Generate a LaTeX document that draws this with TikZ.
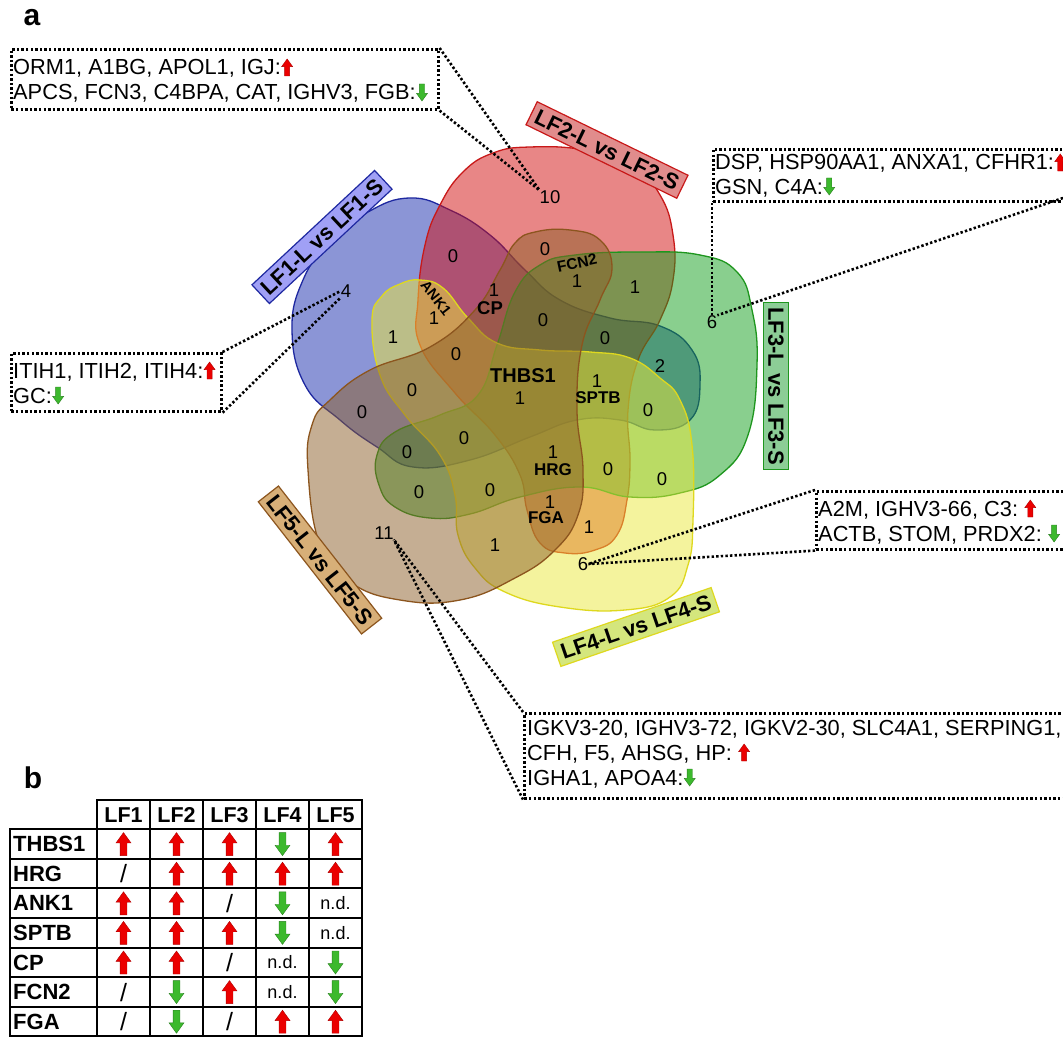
\documentclass[tikz,border=0pt]{standalone}
\usepackage{fontspec}
\setmainfont{Liberation Sans}
\usetikzlibrary{calc}
\definecolor{blueF}{RGB}{25,45,175}
\definecolor{blueD}{RGB}{30,40,160}
\definecolor{redF}{RGB}{210,15,15}
\definecolor{redD}{RGB}{200,25,25}
\definecolor{greenF}{RGB}{20,160,30}
\definecolor{greenD}{RGB}{30,150,30}
\definecolor{yelF}{RGB}{235,232,60}
\definecolor{yelD}{RGB}{222,216,30}
\definecolor{brnF}{RGB}{140,95,40}
\definecolor{brnD}{RGB}{140,85,30}
\definecolor{arrRed}{RGB}{235,0,0}
\definecolor{arrGreen}{RGB}{60,185,45}
\definecolor{labA}{RGB}{160,160,245}
\definecolor{labB}{RGB}{225,140,140}
\definecolor{labC}{RGB}{140,205,150}
\definecolor{labD}{RGB}{212,230,125}
\definecolor{labE}{RGB}{215,175,120}
\tikzset{
  upA/.pic={\fill[arrRed,draw=arrRed!75!black,line width=0.4pt] (0,-10)--(6.5,-1)--(3,-1)--(3,10)--(-3,10)--(-3,-1)--(-6.5,-1)--cycle;},
  dnA/.pic={\fill[arrGreen,draw=arrGreen!70!black,line width=0.4pt] (0,10)--(6.5,1)--(3,1)--(3,-10)--(-3,-10)--(-3,1)--(-6.5,1)--cycle;},
  num/.style={font=\fontsize{18.5}{18.5}\selectfont, inner sep=0pt},
  gene/.style={font=\bfseries\fontsize{17}{17}\selectfont, inner sep=0pt},
  lab/.style={font=\bfseries\fontsize{22}{22}\selectfont, inner sep=5pt, line width=1.2pt},
  callout/.style={draw, line width=2.6pt, dash pattern=on 2.4pt off 2.2pt, inner sep=0pt, anchor=north west},
  leader/.style={line width=2.6pt, dash pattern=on 2.4pt off 2.2pt},
  ctext/.style={font=\fontsize{21.8}{21.8}\selectfont, inner sep=0pt, anchor=base west},
  tname/.style={font=\bfseries\fontsize{22}{22}\selectfont, inner sep=0pt, anchor=west},
  thead/.style={font=\bfseries\fontsize{21.5}{21.5}\selectfont, inner sep=0pt},
  tslash/.style={font=\fontsize{25}{25}\selectfont, inner sep=0pt},
  tnd/.style={font=\fontsize{18}{18}\selectfont, inner sep=0pt},
  tbl/.style={line width=2pt},
  panel/.style={font=\bfseries\fontsize{30}{30}\selectfont, inner sep=0pt}
}
\newcommand\tcU[3]{\pic[scale=1.15] at (#1,#2) {upA};}
\newcommand\tcD[3]{\pic[scale=1.15] at (#1,#2) {dnA};}
\newcommand\tcS[3]{\node[tslash] (#3) at (#1,#2) {/};}
\newcommand\tcN[3]{\node[tnd] (#3) at (#1,#2) {n.d.};}
\begin{document}
\begin{tikzpicture}[x=1pt,y=-1pt]
\useasboundingbox (0,0) rectangle (1063,1038);
\fill[white] (0,0) rectangle (1063,1038);

% panel letters
\node[panel] (pa) at (32,18) {a};
\node[panel] (pb) at (33,778) {b};

% Venn shapes
\begin{scope}[line width=1.3pt, fill opacity=0.5]
\draw[fill=blueF, draw=blueD] plot[smooth cycle, tension=0.75] coordinates {
 (292,330) (303,280) (330,242) (368,212) (410,198) (450,210) (490,235) (525,270)
 (560,300) (610,318) (660,326) (692,350) (700,385) (690,420) (655,430) (620,420)
 (577,420) (530,437) (470,460) (413,467) (377,447) (340,420) (305,385)};
\draw[fill=redF, draw=redD] plot[smooth cycle, tension=0.75] coordinates {
 (418,300) (420,345) (455,393) (495,435) (520,475) (527,510) (540,543) (565,553)
 (595,550) (617,535) (627,500) (630,460) (628,410) (638,360) (660,320) (673,280)
 (673,235) (660,195) (632,165) (585,150) (530,147) (493,153) (463,172) (440,205) (425,245)};
\draw[fill=greenF, draw=greenD] plot[smooth cycle, tension=0.75] coordinates {
 (377,455) (395,432) (440,415) (478,395) (497,345) (515,292) (540,265) (575,255)
 (640,252) (700,255) (737,272) (752,310) (757,365) (748,435) (720,475) (680,493)
 (630,497) (580,487) (520,497) (470,514) (430,518) (395,507) (379,485)};
\draw[fill=yelF, draw=yelD] plot[smooth cycle, tension=0.75] coordinates {
 (372,320) (382,296) (400,284) (420,280) (443,288) (468,318) (497,343) (540,350)
 (590,352) (630,358) (660,378) (680,400) (692,445) (693,520) (688,565) (670,597)
 (625,610) (560,607) (505,592) (475,568) (458,535) (455,495) (440,455) (405,415) (380,375)};
\draw[fill=brnF, draw=brnD] plot[smooth cycle, tension=0.75] coordinates {
 (308,470) (312,425) (330,400) (370,370) (430,347) (475,310) (500,270) (515,243)
 (535,232) (570,230) (600,240) (612,268) (600,300) (582,345) (577,410) (583,470)
 (578,515) (555,550) (515,578) (460,600) (400,600) (350,582) (320,545)};
\end{scope}

% set labels
\node[lab, fill=labA, draw=blueD, rotate=43] (L1) at (322,237) {LF1-L vs LF1-S};
\node[lab, fill=labB, draw=redD, rotate=-26] (L2) at (607,150) {LF2-L vs LF2-S};
\node[lab, fill=labC, draw=greenD, rotate=-90] (L3) at (776,386) {LF3-L vs LF3-S};
\node[lab, fill=labD, draw=yelD, rotate=19] (L4) at (636,627) {LF4-L vs LF4-S};
\node[lab, fill=labE, draw=brnD, rotate=-52] (L5) at (320,560) {LF5-L vs LF5-S};

% region numbers and gene names
\node[num] (n10) at (550,197) {10};
\node[num] (r1) at (453,256) {0};
\node[num] (r2) at (545,249) {0};
\node[gene, rotate=12, font=\bfseries\fontsize{15.5}{15.5}\selectfont] (gFCN2) at (577,263) {FCN2};
\node[num] (r3) at (577,281) {1};
\node[num] (r4) at (635,287) {1};
\node[num] (r5) at (494,290) {1};
\node[gene, font=\bfseries\fontsize{18.5}{18.5}\selectfont] (gCP) at (490,308) {CP};
\node[gene, rotate=-52, font=\bfseries\fontsize{14.5}{14.5}\selectfont] (gANK1) at (436,298) {ANK1};
\node[num] (r6) at (434,318) {1};
\node[num] (n4) at (346,291) {4};
\node[num] (r7) at (393,337) {1};
\node[num] (r8) at (456,354) {0};
\node[num] (r9) at (543,320) {0};
\node[num] (r10) at (605,338) {0};
\node[num] (r11) at (660,366) {2};
\node[num] (n6g) at (712,322) {6};
\node[gene, font=\bfseries\fontsize{20}{20}\selectfont] (gTHBS1) at (523,376) {THBS1};
\node[num] (r12) at (520,398) {1};
\node[num] (r13) at (597,381) {1};
\node[gene] (gSPTB) at (598,398) {SPTB};
\node[num] (r14) at (412,390) {0};
\node[num] (r15) at (648,410) {0};
\node[num] (r16) at (362,412) {0};
\node[num] (r17) at (407,452) {0};
\node[num] (r18) at (464,438) {0};
\node[num] (r19) at (553,452) {1};
\node[gene] (gHRG) at (553,470) {HRG};
\node[num] (r20) at (608,469) {0};
\node[num] (r21) at (662,479) {0};
\node[num] (r22) at (419,492) {0};
\node[num] (r23) at (490,490) {0};
\node[num] (r24) at (550,502) {1};
\node[gene] (gFGA) at (546,518) {FGA};
\node[num] (r25) at (589,527) {1};
\node[num] (n11) at (384,533) {11};
\node[num] (r26) at (495,545) {1};
\node[num] (n6y) at (583,564) {6};

% callout boxes
\node[callout, minimum width=427, minimum height=60] (box1) at (10,48) {};
\node[ctext] (t11) at (13,75) {ORM1, A1BG, APOL1, IGJ:};
\node[ctext] (t12) at (13,100) {APCS, FCN3, C4BPA, CAT, IGHV3, FGB:};
\path (t11.base east) ++(6,-7.5) pic[scale=0.85] {upA};
\path (t12.base east) ++(6,-7.5) pic[scale=0.85] {dnA};

\node[callout, minimum width=360, minimum height=52] (box2) at (712,148) {};
\node[ctext] (t21) at (715,170) {DSP, HSP90AA1, ANXA1, CFHR1:};
\node[ctext] (t22) at (715,194) {GSN, C4A:};
\path (t21.base east) ++(6,-7.5) pic[scale=0.85] {upA};
\path (t22.base east) ++(6,-7.5) pic[scale=0.85] {dnA};

\node[callout, minimum width=210, minimum height=58] (box3) at (10,352) {};
\node[ctext] (t31) at (13,378) {ITIH1, ITIH2, ITIH4:};
\node[ctext] (t32) at (13,403) {GC:};
\path (t31.base east) ++(6,-7.5) pic[scale=0.85] {upA};
\path (t32.base east) ++(6,-7.5) pic[scale=0.85] {dnA};

\node[callout, minimum width=260, minimum height=58] (box4) at (815,490) {};
\node[ctext] (t41) at (818,516) {A2M, IGHV3-66, C3:};
\node[ctext] (t42) at (818,541) {ACTB, STOM, PRDX2:};
\path (t41.base east) ++(12,-7.5) pic[scale=0.85] {upA};
\path (t42.base east) ++(12,-7.5) pic[scale=0.85] {dnA};

\node[callout, minimum width=550, minimum height=85] (box5) at (523,712) {};
\node[ctext] (t51) at (527,735) {IGKV3-20, IGHV3-72, IGKV2-30, SLC4A1, SERPING1,};
\node[ctext] (t52) at (527,760) {CFH, F5, AHSG, HP:};
\node[ctext] (t53) at (527,785) {IGHA1, APOA4:};
\path (t52.base east) ++(12,-7.5) pic[scale=0.85] {upA};
\path (t53.base east) ++(6,-7.5) pic[scale=0.85] {dnA};

% leaders
\draw[leader] (box1.north east) -- (n10.north west);
\draw[leader] (box1.south east) -- (n10.north west);
\draw[leader] (box2.south west) -- (n6g.north);
\coordinate (b2r) at (1063,198);
\draw[leader] (b2r) -- (n6g.north east);
\draw[leader] (box3.north east) -- (n4.west);
\draw[leader] (box3.south east) -- (n4.south west);
\draw[leader] (box4.north west) -- (n6y.east);
\draw[leader] (box4.south west) -- (n6y.east);
\draw[leader] (box5.north west) -- (n11.south east);
\draw[leader] (box5.south west) -- (n11.south east);

% table
\draw[tbl] (97,800) rectangle (362,1036);
\draw[tbl] (10,829) rectangle (97,1036);
\foreach \yy in {829,859,888,918,948,977,1007} \draw[tbl] (10,\yy) -- (362,\yy);
\foreach \xx in {150,203,256,309} \draw[tbl] (\xx,800) -- (\xx,1036);
\foreach \h [count=\j] in {LF1,LF2,LF3,LF4,LF5} {
  \pgfmathsetmacro\xx{70.5+53*\j}
  \node[thead] (h\j) at (\xx,815) {\h};
}
\foreach \nm/\a/\b/\c/\d/\e [count=\i] in {THBS1/U/U/U/D/U, HRG/S/U/U/U/U, ANK1/U/U/S/D/N, SPTB/U/U/U/D/N, CP/U/U/S/N/D, FCN2/S/D/U/N/D, FGA/S/D/S/U/U} {
  \pgfmathsetmacro\yy{814.5+29.6*\i}
  \node[tname] (rn\i) at (13,\yy) {\nm};
  \foreach \v [count=\j] in {\a,\b,\c,\d,\e} {
    \pgfmathsetmacro\xx{70.5+53*\j}
    \csname tc\v\endcsname{\xx}{\yy}{c\i\j}
  }
}
\end{tikzpicture}
\end{document}
